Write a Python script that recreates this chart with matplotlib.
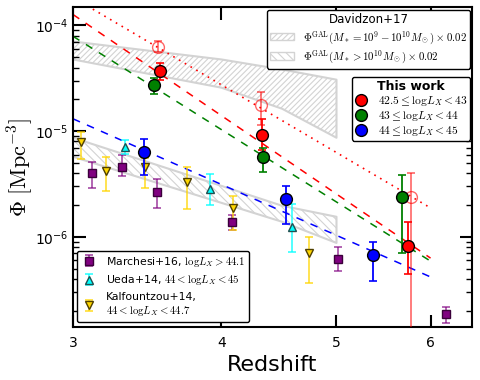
import matplotlib
matplotlib.use("Agg")
import matplotlib.pyplot as plt
from matplotlib.patches import Patch
from matplotlib.lines import Line2D
from matplotlib.ticker import FixedLocator, FormatStrFormatter, NullLocator

plt.rcParams['mathtext.fontset'] = 'cm'
plt.rcParams['hatch.color'] = '#c8c8c8'
plt.rcParams['hatch.linewidth'] = 0.8

# This work, filled circles (value, lower bound, upper bound)
red_z = [3.55, 4.33, 5.74]
red_phi = [3.74e-5, 9.3e-6, 8.2e-7]
red_lo = [3.08e-5, 6.7e-6, 4.46e-7]
red_hi = [4.45e-5, 1.29e-5, 1.39e-6]

green_z = [3.51, 4.34, 5.68]
green_phi = [2.76e-5, 5.73e-6, 2.39e-6]
green_lo = [2.26e-5, 4.13e-6, 7.05e-7]
green_hi = [3.15e-5, 6.98e-6, 3.87e-6]

blue_z = [3.44, 4.53, 5.37]
blue_phi = [6.4e-6, 2.29e-6, 6.7e-7]
blue_lo = [3.87e-6, 1.33e-6, 3.83e-7]
blue_hi = [8.5e-6, 3.04e-6, 8.97e-7]

# open red circles
open_z = [3.54, 4.32, 5.78]
open_phi = [6.32e-5, 1.75e-5, 2.39e-6]
open_lo = [5.55e-5, 1.15e-5, 1e-9]
open_hi = [7.2e-5, 2.37e-5, 4.05e-6]

# fitted lines, evaluated at the ends
fit_z = [3.0, 6.0]
red_fit = [1.27e-4, 6.3e-7]
green_fit = [7.9e-5, 5.9e-7]
blue_fit = [1.31e-5, 4.18e-7]
open_fit = [1.84e-4, 1.88e-6]

# Davidzon+17 bands
dav_z = [3.0, 4.0, 4.5, 5.0]
dav_low_hi = [7.05e-5, 4.77e-5, 3.83e-5, 3.07e-5]
dav_low_lo = [4.77e-5, 2.58e-5, 1.63e-5, 8.67e-6]
dav_high_hi = [8.67e-6, 3.04e-6, 1.97e-6, 1.55e-6]
dav_high_lo = [5.73e-6, 2.10e-6, 1.39e-6, 8.77e-7]

# Literature points
marchesi_z = [3.11, 3.30, 3.53, 4.08, 5.01, 6.18]
marchesi_phi = [4.05e-6, 4.61e-6, 2.67e-6, 1.39e-6, 6.18e-7, 1.86e-7]
marchesi_lo = [2.91e-6, 3.78e-6, 1.88e-6, 1.16e-6, 4.76e-7, 1.53e-7]
marchesi_hi = [5.14e-6, 5.98e-6, 3.55e-6, 1.62e-6, 8.03e-7, 2.17e-7]

ueda_z = [3.32, 3.91, 4.59]
ueda_phi = [7.13e-6, 2.85e-6, 1.25e-6]
ueda_lo = [6.12e-6, 2.01e-6, 7.2e-7]
ueda_hi = [8.3e-6, 3.95e-6, 2.06e-6]

kalf_z = [3.05, 3.20, 3.45, 3.74, 4.09, 4.74]
kalf_phi = [7.95e-6, 4.23e-6, 4.61e-6, 3.32e-6, 1.88e-6, 7.05e-7]
kalf_lo = [5.48e-6, 2.73e-6, 2.91e-6, 1.84e-6, 1.16e-6, 3.66e-7]
kalf_hi = [9.9e-6, 5.73e-6, 5.6e-6, 4.61e-6, 2.45e-6, 1.0e-6]


def yerr(phi, lo, hi):
    return [[p - l for p, l in zip(phi, lo)], [h - p for p, h in zip(phi, hi)]]


def main():
    fig = plt.figure(figsize=(4.8, 3.8), dpi=100)
    ax = fig.add_axes([0.152, 0.139, 0.831, 0.843])
    ax.set_xscale('log')
    ax.set_yscale('log')

    # Davidzon bands
    ax.fill_between(dav_z, dav_low_lo, dav_low_hi, facecolor='none', edgecolor='#d3d3d3',
                    hatch='//////', lw=1.5, zorder=1)
    ax.fill_between(dav_z, dav_high_lo, dav_high_hi, facecolor='none', edgecolor='#d3d3d3',
                    hatch='\\\\\\\\', lw=1.5, zorder=1)

    # fits
    ax.plot(fit_z, red_fit, color='red', ls=(0, (5, 5)), lw=1.1, zorder=2)
    ax.plot(fit_z, green_fit, color='green', ls=(0, (5, 5)), lw=1.1, zorder=2)
    ax.plot(fit_z, blue_fit, color='blue', ls=(0, (5, 5)), lw=1.1, zorder=2)
    ax.plot(fit_z, open_fit, color='red', ls=(0, (1, 3)), lw=1.2, zorder=2)

    # literature
    lit = []
    lit.append(ax.errorbar(marchesi_z, marchesi_phi, yerr=yerr(marchesi_phi, marchesi_lo, marchesi_hi),
                           fmt='s', color='purple', ecolor=(0.5, 0, 0.5, 0.7), mec='#3a003a', ms=5.5,
                           capsize=3, elinewidth=1.2, capthick=1.2, zorder=3))
    lit.append(ax.errorbar(ueda_z, ueda_phi, yerr=yerr(ueda_phi, ueda_lo, ueda_hi),
                           fmt='^', color='cyan', ecolor=(0, 1, 1, 0.8), mec='#205050', ms=6,
                           capsize=3, elinewidth=1.2, capthick=1.2, zorder=3))
    lit.append(ax.errorbar(kalf_z, kalf_phi, yerr=yerr(kalf_phi, kalf_lo, kalf_hi),
                           fmt='v', color='gold', ecolor=(1, 0.84, 0, 0.8), mec='#504000', ms=6,
                           capsize=3, elinewidth=1.2, capthick=1.2, zorder=3))

    # this work
    ax.errorbar(open_z, open_phi, yerr=yerr(open_phi, open_lo, open_hi), fmt='o', ms=8.5,
                mfc='none', mec=(1, 0, 0, 0.6), ecolor=(1, 0, 0, 0.6), capsize=3,
                elinewidth=1.2, capthick=1.2, zorder=4)
    for z, phi, lo, hi, c in [(red_z, red_phi, red_lo, red_hi, 'red'),
                              (green_z, green_phi, green_lo, green_hi, 'green'),
                              (blue_z, blue_phi, blue_lo, blue_hi, 'blue')]:
        ax.errorbar(z, phi, yerr=yerr(phi, lo, hi), fmt='o', ms=8.5, mfc=c, mec='black',
                    ecolor=c, capsize=3, elinewidth=1.3, capthick=1.2, zorder=5)

    ax.set_xlim(3, 6.5)
    ax.set_ylim(1.4e-7, 1.5e-4)
    ax.xaxis.set_major_locator(FixedLocator([3, 4, 5, 6]))
    ax.xaxis.set_major_formatter(FormatStrFormatter('%d'))
    ax.xaxis.set_minor_locator(NullLocator())
    ax.tick_params(which='both', direction='in', top=True, right=True, labelsize=10)
    ax.tick_params(which='major', length=9, width=1.5)
    ax.tick_params(which='minor', length=4, width=1)
    ax.tick_params(axis='x', pad=6)
    ax.tick_params(axis='y', pad=3.5)
    for s in ax.spines.values():
        s.set_linewidth(1.5)

    ax.set_xlabel('Redshift', fontsize=16, labelpad=4)
    ax.set_ylabel(r'$\Phi\ [{\rm Mpc}^{-3}]$', fontsize=16)
    ax.yaxis.set_label_coords(-0.095, 0.5)

    # legends
    dav_handles = [Patch(facecolor='none', edgecolor='#d3d3d3', hatch='//////'),
                   Patch(facecolor='none', edgecolor='#d3d3d3', hatch='\\\\\\\\')]
    dav_labels = [r'$\Phi^{\rm GAL}(M_*=10^9-10^{10}M_\odot)\times0.02$',
                  r'$\Phi^{\rm GAL}(M_*>10^{10}M_\odot)\times0.02$']
    leg1 = ax.legend(dav_handles, dav_labels, loc='upper right', bbox_to_anchor=(0.995, 0.99),
                     title='Davidzon+17', fontsize=7.8, title_fontsize=8.5, frameon=True,
                     edgecolor='black', framealpha=1, borderaxespad=0, handlelength=2.2,
                     labelspacing=0.25, borderpad=0.3)
    ax.add_artist(leg1)

    tw_handles = [Line2D([], [], ls='none', marker='o', ms=8.5, mfc=c, mec='black')
                  for c in ['red', 'green', 'blue']]
    tw_labels = [r'$42.5\leq{\rm log}L_X<43$', r'$43\leq{\rm log}L_X<44$',
                 r'$44\leq{\rm log}L_X<45$']
    leg2 = ax.legend(tw_handles, tw_labels, loc='upper right', bbox_to_anchor=(0.995, 0.781),
                     title='This work', fontsize=8.3, title_fontproperties={'weight': 'bold', 'size': 9},
                     edgecolor='black', framealpha=1, borderaxespad=0, handlelength=1.2,
                     labelspacing=0.08, borderpad=0.25, handletextpad=0.8)
    ax.add_artist(leg2)

    lit_labels = [r'Marchesi+16, ${\rm log}L_X>44.1$', r'Ueda+14, $44<{\rm log}L_X<45$',
                  'Kalfountzou+14,\n' + r'$44<{\rm log}L_X<44.7$']
    ax.legend(lit, lit_labels, loc='lower left', bbox_to_anchor=(0.01, 0.016), fontsize=7.8,
              edgecolor='black', framealpha=1, borderaxespad=0, handlelength=1.5,
              labelspacing=0.45, borderpad=0.35)

    fig.savefig('out.png', dpi=100)


if __name__ == "__main__":
    main()
